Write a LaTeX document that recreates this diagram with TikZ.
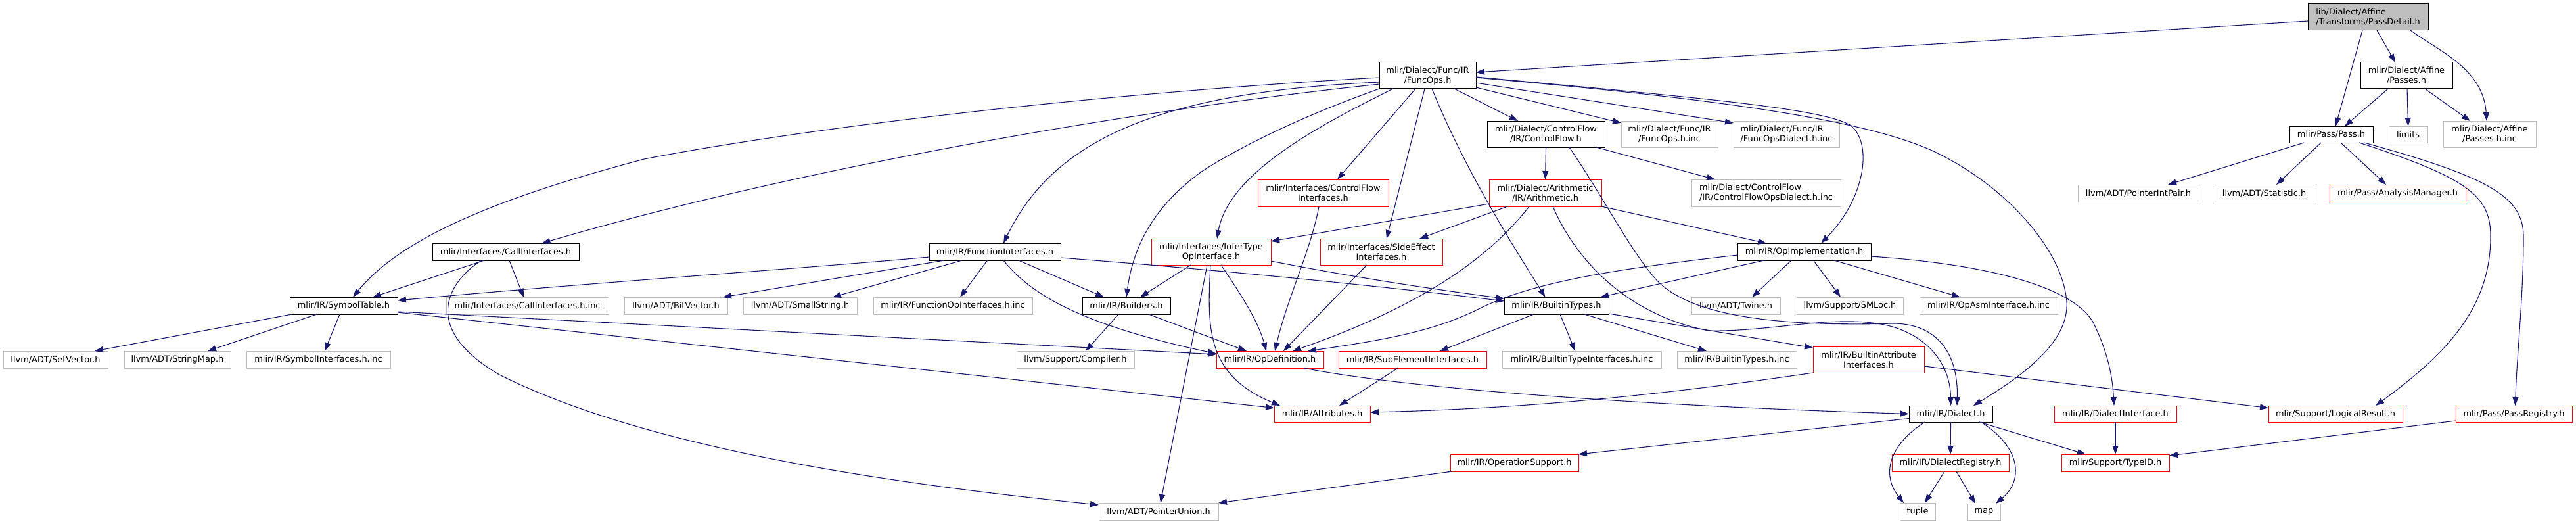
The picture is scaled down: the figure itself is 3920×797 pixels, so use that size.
\documentclass[tikz,border=0pt]{standalone}
\usepackage{fontspec}
\setmainfont{DejaVu Sans}
\usetikzlibrary{arrows.meta}
\definecolor{edgecol}{HTML}{191970}
\definecolor{nodegray}{HTML}{BFBFBF}
\definecolor{rootfill}{HTML}{BFBFBF}
\tikzset{
  base/.style={draw, line width=1pt, inner sep=0pt, outer sep=0pt,
    font=\fontsize{12.9}{15}\selectfont, align=center, fill=white, text=black},
  blk/.style={base, draw=black, line width=1pt},
  gry/.style={base, draw=nodegray},
  rd/.style={base, draw=red},
  one/.style={minimum height=26pt},
  two/.style={minimum height=40pt},
  e/.style={draw=edgecol, line width=1.1pt, -{Triangle[length=13pt,width=9pt]}}
}
\begin{document}
\begin{tikzpicture}[x=1pt,y=-1pt]
\fill[white] (0,0) rectangle (3920,797);
\useasboundingbox (0,0) rectangle (3920,797);

% ---------- nodes ----------
\node[blk, two, minimum width=183pt, align=left, fill=rootfill] (pd) at (3603.5,26) {lib/Dialect/Affine\\/Transforms/PassDetail.h};
\node[blk, two, minimum width=147pt] (funcops) at (2172.5,115) {mlir/Dialect/Func/IR\\/FuncOps.h};
\node[blk, two, minimum width=140pt] (passes) at (3662,115) {mlir/Dialect/Affine\\/Passes.h};
\node[blk, two, minimum width=179pt] (cf) at (2352.5,204) {mlir/Dialect/ControlFlow\\/IR/ControlFlow.h};
\node[gry, two, minimum width=147pt] (funcopsinc) at (2540.5,204) {mlir/Dialect/Func/IR\\/FuncOps.h.inc};
\node[gry, two, minimum width=161pt, align=left] (funcopsdialinc) at (2718.5,204) {mlir/Dialect/Func/IR\\/FuncOpsDialect.h.inc};
\node[blk, minimum height=25pt, minimum width=127pt] (pass) at (3547.5,204.5) {mlir/Pass/Pass.h};
\node[gry, minimum height=25pt, minimum width=59pt] (limits) at (3664.5,204.5) {limits};
\node[gry, two, minimum width=141pt] (passesinc) at (3788.5,204) {mlir/Dialect/Affine\\/Passes.h.inc};
\node[rd, minimum height=41pt, minimum width=199pt] (cfi) at (2013.5,293.5) {mlir/Interfaces/ControlFlow\\Interfaces.h};
\node[rd, minimum height=41pt, minimum width=171pt] (arith) at (2351.5,293.5) {mlir/Dialect/Arithmetic\\/IR/Arithmetic.h};
\node[gry, minimum height=41pt, minimum width=227pt, align=left] (cfdialinc) at (2687.5,293.5) {mlir/Dialect/ControlFlow\\/IR/ControlFlowOpsDialect.h.inc};
\node[gry, one, minimum width=184pt] (pip) at (3254,294) {llvm/ADT/PointerIntPair.h};
\node[gry, one, minimum width=151pt] (stat) at (3445.5,294) {llvm/ADT/Statistic.h};
\node[rd, one, minimum width=207pt] (am) at (3648.5,294) {mlir/Pass/AnalysisManager.h};
\node[blk, one, minimum width=223pt] (callif) at (769.5,383) {mlir/Interfaces/CallInterfaces.h};
\node[blk, one, minimum width=200pt] (funcif) at (1514,383) {mlir/IR/FunctionInterfaces.h};
\node[rd, two, minimum width=182pt] (infer) at (1843,383) {mlir/Interfaces/InferType\\OpInterface.h};
\node[rd, two, minimum width=186pt] (sideeff) at (2102,383) {mlir/Interfaces/SideEffect\\Interfaces.h};
\node[blk, one, minimum width=203pt] (opimpl) at (2745.5,383) {mlir/IR/OpImplementation.h};
\node[blk, one, minimum width=164pt] (symtab) at (523,465) {mlir/IR/SymbolTable.h};
\node[gry, one, minimum width=247pt] (callifinc) at (802.5,465) {mlir/Interfaces/CallInterfaces.h.inc};
\node[gry, one, minimum width=157pt] (bitvec) at (1028.5,465) {llvm/ADT/BitVector.h};
\node[gry, one, minimum width=173pt] (smallstr) at (1217.5,465) {llvm/ADT/SmallString.h};
\node[gry, one, minimum width=242pt] (funcopifinc) at (1450,465) {mlir/IR/FunctionOpInterfaces.h.inc};
\node[blk, one, minimum width=134pt] (builders) at (1714,465) {mlir/IR/Builders.h};
\node[blk, one, minimum width=159pt] (btypes) at (2368.5,465) {mlir/IR/BuiltinTypes.h};
\node[gry, one, minimum width=135pt] (twine) at (2641.5,465) {llvm/ADT/Twine.h};
\node[gry, one, minimum width=162pt] (smloc) at (2815,465) {llvm/Support/SMLoc.h};
\node[gry, one, minimum width=210pt] (opasminc) at (3026,465) {mlir/IR/OpAsmInterface.h.inc};
\node[gry, one, minimum width=159pt] (setvec) at (84.5,547) {llvm/ADT/SetVector.h};
\node[gry, one, minimum width=162pt] (strmap) at (270,547) {llvm/ADT/StringMap.h};
\node[gry, one, minimum width=219pt] (symifinc) at (484.5,547) {mlir/IR/SymbolInterfaces.h.inc};
\node[gry, one, minimum width=179pt] (compiler) at (1636.5,547) {llvm/Support/Compiler.h};
\node[rd, one, minimum width=163pt] (opdef) at (1932.5,547) {mlir/IR/OpDefinition.h};
\node[rd, one, minimum width=225pt] (subel) at (2149.5,547) {mlir/IR/SubElementInterfaces.h};
\node[gry, one, minimum width=242pt] (btifinc) at (2407,547) {mlir/IR/BuiltinTypeInterfaces.h.inc};
\node[gry, one, minimum width=182pt] (btinc) at (2643,547) {mlir/IR/BuiltinTypes.h.inc};
\node[rd, two, minimum width=169pt] (battrif) at (2843.5,547) {mlir/IR/BuiltinAttribute\\Interfaces.h};
\node[rd, minimum height=25pt, minimum width=146pt] (attrs) at (2012,629.5) {mlir/IR/Attributes.h};
\node[blk, minimum height=25pt, minimum width=127pt] (dialect) at (2968.5,629.5) {mlir/IR/Dialect.h};
\node[rd, minimum height=25pt, minimum width=186pt] (dialif) at (3219,629.5) {mlir/IR/DialectInterface.h};
\node[rd, minimum height=25pt, minimum width=204pt] (logres) at (3554,629.5) {mlir/Support/LogicalResult.h};
\node[rd, minimum height=25pt, minimum width=177pt] (passreg) at (3825.5,629.5) {mlir/Pass/PassRegistry.h};
\node[rd, one, minimum width=195pt] (opsupp) at (2304.5,704) {mlir/IR/OperationSupport.h};
\node[rd, one, minimum width=178pt] (dialreg) at (2968,704) {mlir/IR/DialectRegistry.h};
\node[rd, one, minimum width=164pt] (typeid) at (3219,704) {mlir/Support/TypeID.h};
\node[gry, one, minimum width=182pt] (ptrunion) at (1763,778) {llvm/ADT/PointerUnion.h};
\node[gry, one, minimum width=54pt] (tuple) at (2918,778) {tuple};
\node[gry, minimum height=25pt, minimum width=50pt] (map) at (3019,778.5) {map};

% ---------- edges ----------
% PassDetail
\draw[e] ([yshift=-6pt]pd.west) -- ([yshift=5pt]funcops.east);
\draw[e] ([xshift=-8.5pt]pd.south) -- ([xshift=6.5pt]pass.north);
\draw[e] ([xshift=13.5pt]pd.south) -- ([xshift=-17pt]passes.north);
\draw[e] ([xshift=64.5pt]pd.south) .. controls +(40,30) and +(-5,-80) .. ([xshift=-4.5pt]passesinc.north);
% Passes
\draw[e] ([xshift=-28pt]passes.south) -- ([xshift=20.5pt]pass.north);
\draw[e] ([xshift=1pt]passes.south) -- (limits.north);
\draw[e] ([xshift=28pt]passes.south) -- ([xshift=-29.5pt]passesinc.north);
% Pass
\draw[e] ([xshift=-41.5pt]pass.south) -- ([xshift=45pt]pip.north);
\draw[e] ([xshift=-15.5pt]pass.south) -- ([xshift=18.5pt]stat.north);
\draw[e] ([xshift=14.5pt]pass.south) -- ([xshift=-17.5pt]am.north);
\draw[e] ([xshift=42.5pt]pass.south) .. controls (3760,272) and (3790,300) .. (3790,360) .. controls (3790,470) and (3720,540) .. ([xshift=61pt]logres.north);
\draw[e] ([xshift=50pt]pass.south) .. controls (3790,270) and (3840,300) .. (3840,360) .. controls (3840,450) and (3830,540) .. ([xshift=2pt]passreg.north);
\draw[e] ([yshift=-10.5pt]passreg.west) -- ([yshift=11pt]typeid.east);
% FuncOps
\draw[e] ([yshift=-3pt]funcops.west) .. controls (1700,140) and (1250,190) .. (980,242) .. controls (800,290) and (620,350) .. ([xshift=14pt]symtab.north);
\draw[e] ([yshift=-13pt]funcops.west) .. controls (1700,170) and (1200,260) .. ([xshift=55pt]callif.north);
\draw[e] ([yshift=-10pt]funcops.west) .. controls (1750,140) and (1600,220) .. ([xshift=13pt]funcif.north);
\draw[e] (funcops.south west) .. controls (2000,170) and (1900,215) .. (1830,260) .. controls (1760,310) and (1725,370) .. (builders.north);
\draw[e] ([xshift=-53pt]funcops.south) .. controls (2020,185) and (1870,260) .. ([xshift=9pt]infer.north);
\draw[e] ([xshift=-18.5pt]funcops.south) -- ([xshift=21.5pt]cfi.north);
\draw[e] ([xshift=-4.5pt]funcops.south) -- ([xshift=8pt]sideeff.north);
\draw[e] ([xshift=6.5pt]funcops.south) .. controls (2230,260) and (2300,370) .. ([xshift=-17pt]btypes.north);
\draw[e] ([xshift=40.5pt]funcops.south) -- ([xshift=-42.5pt]cf.north);
\draw[e] ([yshift=-18pt]funcops.east) -- ([yshift=-3pt]funcopsinc.north west);
\draw[e] ([yshift=-11pt]funcops.east) -- ([yshift=-3pt]funcopsdialinc.north west);
\draw[e] ([yshift=-2pt]funcops.east) .. controls (2600,150) and (2770,165) .. (2815,190) .. controls (2850,215) and (2840,300) .. ([xshift=25.5pt]opimpl.north);
\draw[e] ([yshift=-3pt]funcops.east) .. controls (2550,145) and (2820,175) .. (2940,229) .. controls (3050,280) and (3140,380) .. (3145,460) .. controls (3148,520) and (3080,570) .. ([xshift=34.5pt]dialect.north);
% ControlFlow
\draw[e] (cf.south) -- (arith.north);
\draw[e] ([xshift=76.5pt]cf.south) -- ([xshift=-77.5pt]cfdialinc.north);
\draw[e] ([xshift=35.5pt]cf.south) .. controls (2440,300) and (2480,380) .. (2520,425) .. controls (2570,480) and (2700,497) .. (2880,492) .. controls (2950,492) and (2980,540) .. ([xshift=9.5pt]dialect.north);
% Arithmetic
\draw[e] ([yshift=-16.5pt]arith.west) -- ([yshift=16pt]infer.east);
\draw[e] ([xshift=-57.5pt]arith.south) -- ([xshift=58pt]sideeff.north);
\draw[e] ([xshift=-24.5pt]arith.south) .. controls (2260,400) and (2150,470) .. ([xshift=34.5pt]opdef.north);
\draw[e] ([xshift=11.5pt]arith.south) .. controls (2400,400) and (2480,480) .. (2600,503) .. controls (2700,505) and (2800,475) .. (2880,497) .. controls (2940,515) and (2968,560) .. (dialect.north);
\draw[e] (arith.south east) -- ([xshift=-57.5pt]opimpl.north);
% ControlFlowInterfaces, SideEffect
\draw[e] ([xshift=-6.5pt]cfi.south) .. controls (1995,380) and (1960,450) .. ([xshift=7.5pt]opdef.north);
\draw[e] ([xshift=-22pt]sideeff.south) -- ([xshift=20.5pt]opdef.north);
% InferType
\draw[e] ([xshift=-31pt]infer.south) -- ([xshift=21pt]builders.north);
\draw[e] ([xshift=15pt]infer.south) .. controls (1890,450) and (1915,490) .. ([xshift=-5.5pt]opdef.north);
\draw[e] ([xshift=-1pt]infer.south) .. controls (1837,500) and (1835,570) .. ([xshift=-64pt]attrs.north);
\draw[e] ([xshift=-6pt]infer.south) -- ([xshift=3pt]ptrunion.north);
\draw[e] ([yshift=-14pt]infer.east) .. controls (2050,420) and (2180,440) .. ([yshift=11pt]btypes.west);
% FunctionInterfaces
\draw[e] ([yshift=-8pt]funcif.west) .. controls (1200,410) and (900,430) .. ([yshift=8pt]symtab.east);
\draw[e] ([xshift=-77pt]funcif.south) -- ([xshift=71.5pt]bitvec.north);
\draw[e] ([xshift=-50pt]funcif.south) -- ([xshift=49.5pt]smallstr.north);
\draw[e] ([xshift=-11.5pt]funcif.south) -- ([xshift=11pt]funcopifinc.north);
\draw[e] ([xshift=13pt]funcif.south) .. controls (1570,450) and (1650,495) .. ([yshift=9pt]opdef.west);
\draw[e] ([xshift=36pt]funcif.south) -- ([xshift=-34pt]builders.north);
\draw[e] ([yshift=-9pt]funcif.east) .. controls (1850,410) and (2100,435) .. ([yshift=7pt]btypes.west);
% CallInterfaces
\draw[e] ([xshift=-32.5pt]callif.south) -- ([xshift=44pt]symtab.north);
\draw[e] ([xshift=5.5pt]callif.south) -- ([xshift=-5.5pt]callifinc.north);
\draw[e] ([xshift=-37pt]callif.south) .. controls (680,430) and (640,500) .. (760,570) .. controls (1000,690) and (1400,740) .. ([yshift=10pt]ptrunion.west);
% SymbolTable
\draw[e] ([xshift=3pt]symtab.south west) -- ([xshift=59.5pt]setvec.north);
\draw[e] ([xshift=-41pt]symtab.south) -- ([xshift=46pt]strmap.north);
\draw[e] ([xshift=-6pt]symtab.south) -- ([xshift=9.5pt]symifinc.north);
\draw[e] ([yshift=-9pt]symtab.east) -- ([yshift=8pt]opdef.west);
\draw[e] ([yshift=-10pt]symtab.east) -- ([yshift=9pt]attrs.west);
% Builders
\draw[e] ([xshift=-12pt]builders.south) -- ([xshift=15.5pt]compiler.north);
\draw[e] ([xshift=34pt]builders.south) -- ([xshift=-35.5pt]opdef.north);
% OpImplementation
\draw[e] ([xshift=-61pt]opimpl.south) -- ([xshift=66.5pt]btypes.north);
\draw[e] ([yshift=-5pt]opimpl.west) .. controls (2450,410) and (2330,430) .. (2250,470) .. controls (2180,505) and (2100,518) .. ([xshift=57.5pt]opdef.north);
\draw[e] ([xshift=-19.5pt]opimpl.south) -- ([xshift=24.5pt]twine.north);
\draw[e] ([xshift=14pt]opimpl.south) -- ([xshift=-14pt]smloc.north);
\draw[e] ([xshift=45.5pt]opimpl.south) -- ([xshift=-43pt]opasminc.north);
\draw[e] ([yshift=-7pt]opimpl.east) .. controls (3000,400) and (3150,430) .. (3185,490) .. controls (3210,540) and (3215,580) .. ([xshift=-2pt]dialif.north);
% BuiltinTypes
\draw[e] ([xshift=-34.5pt]btypes.south) -- ([xshift=41.5pt]subel.north);
\draw[e] ([xshift=5.5pt]btypes.south) -- ([xshift=-10pt]btifinc.north);
\draw[e] ([xshift=42.5pt]btypes.south) -- ([xshift=-46pt]btinc.north);
\draw[e] ([yshift=1pt]btypes.south east) -- ([yshift=-2pt]battrif.north west);
% SubElementInterfaces
\draw[e] ([xshift=-22.5pt]subel.south) -- ([xshift=26pt]attrs.north);
% BuiltinAttributeInterfaces
\draw[e] (battrif.south west) .. controls (2500,605) and (2300,622) .. ([yshift=2.5pt]attrs.east);
\draw[e] ([yshift=-10pt]battrif.east) -- ([yshift=9pt]logres.west);
% OpDefinition
\draw[e] ([xshift=52pt]opdef.south) .. controls (2150,592) and (2500,617) .. (dialect.west);
% Dialect
\draw[e] ([yshift=-7pt]dialect.west) -- (opsupp.north east);
\draw[e] (dialect.south) -- (dialreg.north);
\draw[e] ([xshift=43.5pt]dialect.south) -- ([xshift=-45pt]typeid.north);
\draw[e] ([xshift=-39.5pt]dialect.south) .. controls (2870,680) and (2865,725) .. ([xshift=-21pt]tuple.north);
\draw[e] ([xshift=46pt]dialect.south) .. controls (3075,680) and (3080,730) .. ([xshift=18pt]map.north);
% DialectRegistry
\draw[e] ([xshift=-9pt]dialreg.south) -- ([xshift=11pt]tuple.north);
\draw[e] ([xshift=9pt]dialreg.south) -- ([xshift=-13pt]map.north);
% DialectInterface
\draw[e] (dialif.south) -- (typeid.north);
% OperationSupport
\draw[e] ([xshift=3pt]opsupp.south west) -- (ptrunion.north east);
\end{tikzpicture}
\end{document}
